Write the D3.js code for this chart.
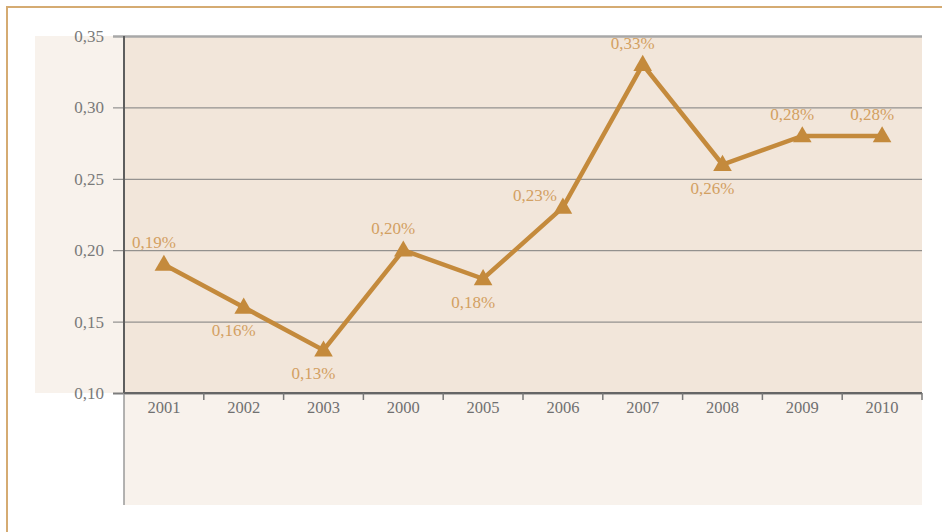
<!DOCTYPE html>
<html>
<head>
<meta charset="utf-8">
<script src="https://cdn.jsdelivr.net/npm/d3@7"></script>
<style>
  body { margin: 0; background: #fff; }
  svg { display: block; }
</style>
</head>
<body>
<svg width="942" height="532"></svg>
<script>
// chart data
const years = ['2001', '2002', '2003', '2000', '2005', '2006', '2007', '2008', '2009', '2010'];
const rates = [0.19, 0.16, 0.13, 0.20, 0.18, 0.23, 0.33, 0.26, 0.28, 0.28];
const yTicks = [0.10, 0.15, 0.20, 0.25, 0.30, 0.35];
// where each value label sits relative to its point
const labelSide = ['above', 'below', 'below', 'above', 'below', 'left', 'above', 'below', 'above', 'above'];

const svg = d3.select('svg');
const fmt = v => d3.format('.2f')(v).replace('.', ',');

// inner plot box
const plot = { left: 124, right: 922, top: 36, bottom: 393 };

const x = d3.scaleBand().domain(years).range([plot.left, plot.right]).padding(0);
const y = d3.scaleLinear().domain([0.10, 0.35]).range([plot.bottom, plot.top]);

// outer frame
svg.append('path')
  .attr('d', 'M7,532 V7 H942')
  .attr('fill', 'none')
  .attr('stroke', '#d5ab72')
  .attr('stroke-width', 2);

// light panels (left of plot and under it)
svg.append('rect')
  .attr('x', 35).attr('y', plot.top)
  .attr('width', plot.left - 35).attr('height', plot.bottom - plot.top)
  .attr('fill', '#f8f2ec');
svg.append('rect')
  .attr('x', plot.left).attr('y', plot.bottom)
  .attr('width', plot.right - plot.left).attr('height', 505 - plot.bottom)
  .attr('fill', '#f8f2ec');

// plot background
svg.append('rect')
  .attr('x', plot.left).attr('y', plot.top)
  .attr('width', plot.right - plot.left).attr('height', plot.bottom - plot.top)
  .attr('fill', '#f2e6da');

// y axis with gridlines
const yAxis = svg.append('g')
  .attr('transform', 'translate(' + plot.left + ',0)')
  .call(d3.axisLeft(y).tickValues(yTicks).tickFormat(fmt)
    .tickSizeInner(-(plot.right - plot.left)).tickSizeOuter(0).tickPadding(20));
yAxis.select('.domain').remove();
yAxis.selectAll('.tick line')
  .attr('x1', -11)
  .attr('stroke', d => d === 0.35 ? '#a8a8a8' : '#7d7d7d')
  .attr('stroke-width', d => d === 0.35 ? 2.5 : (d === 0.10 ? 2 : 1));
yAxis.selectAll('.tick text')
  .attr('font-family', '"Liberation Serif", serif')
  .attr('font-size', 17)
  .attr('fill', '#7a7a7a');

// vertical axis line, continuing under the plot
svg.append('line')
  .attr('x1', plot.left).attr('x2', plot.left)
  .attr('y1', plot.top).attr('y2', plot.bottom)
  .attr('stroke', '#5e5e5e').attr('stroke-width', 2);
svg.append('line')
  .attr('x1', plot.left).attr('x2', plot.left)
  .attr('y1', plot.bottom).attr('y2', 505)
  .attr('stroke', '#9a9a9a').attr('stroke-width', 1.5);

// x axis: ticks on band edges, labels in band centres
const xAxis = svg.append('g')
  .attr('transform', 'translate(0,' + plot.bottom + ')');
xAxis.append('line')
  .attr('x1', plot.left).attr('x2', plot.right)
  .attr('stroke', '#666').attr('stroke-width', 2);
xAxis.selectAll('.edge')
  .data(years.slice(1).concat(['end']))
  .enter().append('line')
  .attr('x1', d => d === 'end' ? plot.right : x(d))
  .attr('x2', d => d === 'end' ? plot.right : x(d))
  .attr('y1', 0).attr('y2', 7)
  .attr('stroke', '#777').attr('stroke-width', 1.5);
xAxis.selectAll('.lbl')
  .data(years)
  .enter().append('text')
  .attr('x', d => x(d) + x.bandwidth() / 2)
  .attr('y', 20)
  .attr('text-anchor', 'middle')
  .attr('font-family', '"Liberation Serif", serif')
  .attr('font-size', 16.5)
  .attr('fill', '#707070')
  .text(d => d);

// series line
const cx = (d, i) => x(years[i]) + x.bandwidth() / 2;
svg.append('path')
  .datum(rates)
  .attr('fill', 'none')
  .attr('stroke', '#c48a3c')
  .attr('stroke-width', 4.5)
  .attr('stroke-linejoin', 'miter')
  .attr('d', d3.line().x(cx).y(d => y(d)));

// triangle markers
svg.selectAll('.mark')
  .data(rates)
  .enter().append('path')
  .attr('transform', (d, i) => 'translate(' + cx(d, i) + ',' + (y(d) + 1) + ')')
  .attr('d', d3.symbol().type(d3.symbolTriangle).size(150))
  .attr('fill', '#c48a3c');

// value labels
svg.selectAll('.val')
  .data(rates)
  .enter().append('text')
  .attr('x', (d, i) => cx(d, i) + (labelSide[i] === 'left' ? -28 : -10))
  .attr('y', (d, i) => y(d) + (labelSide[i] === 'below' ? 29 : labelSide[i] === 'left' ? -6 : -16))
  .attr('text-anchor', 'middle')
  .attr('font-family', '"Liberation Serif", serif')
  .attr('font-size', 17)
  .attr('fill', '#d2a062')
  .text(d => fmt(d) + '%');
</script>
</body>
</html>
